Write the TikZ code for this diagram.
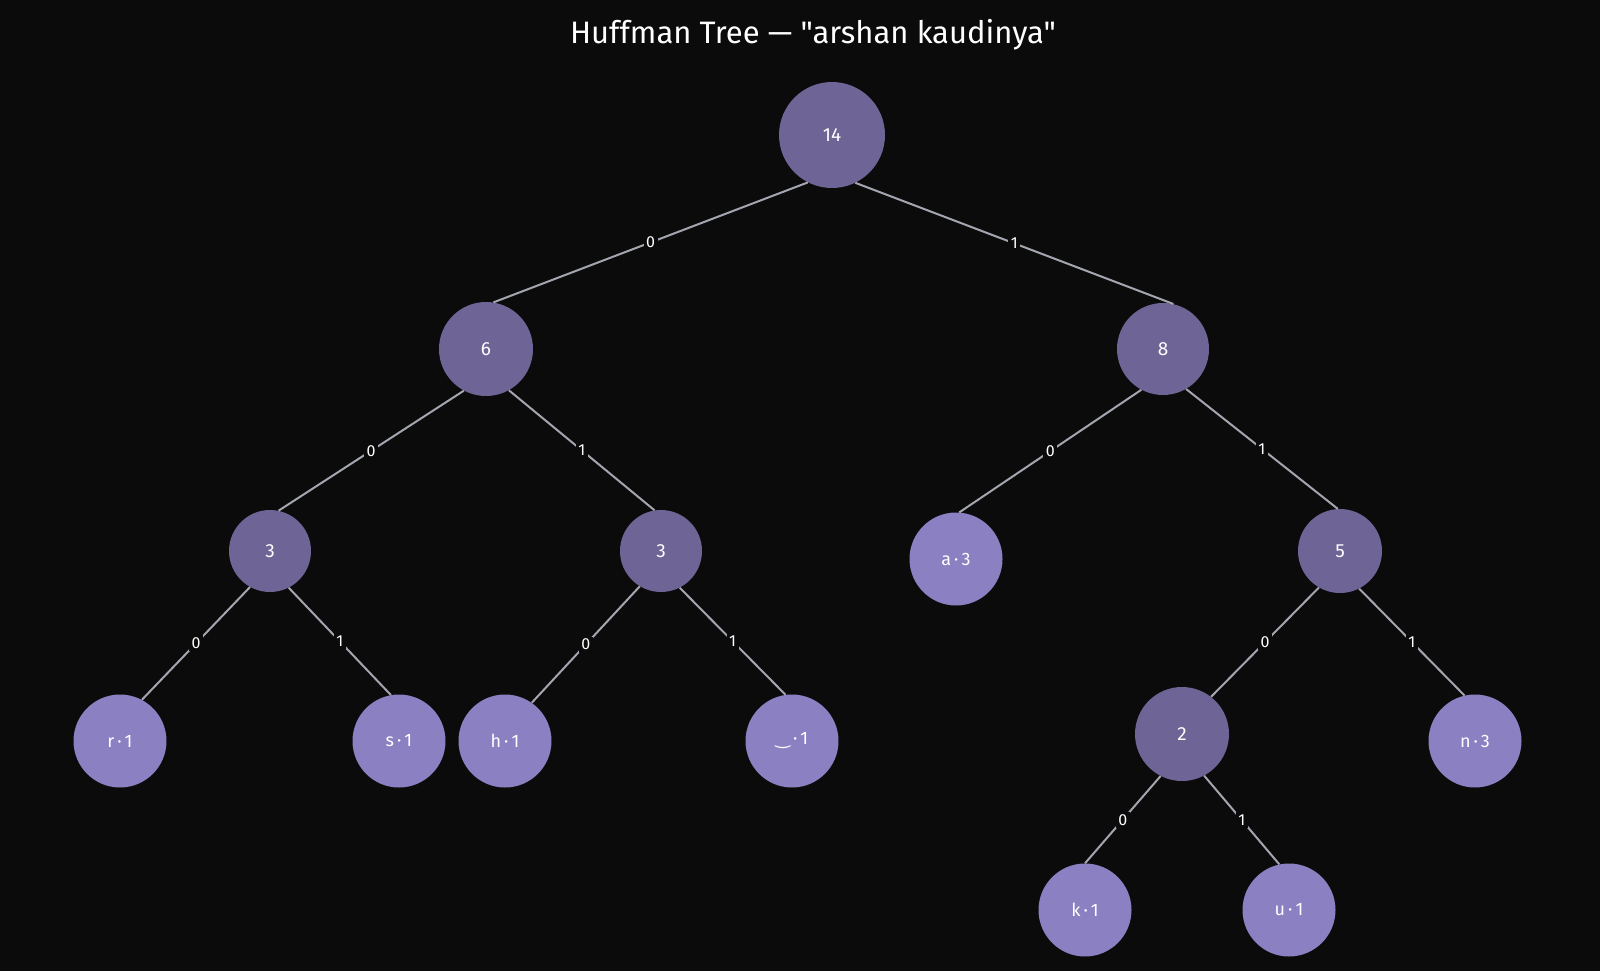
\documentclass[tikz,border=0pt]{standalone}
\usepackage{fontspec}
\setmainfont{Fira Sans}
\newfontfamily\titlefont{Fira Sans}
\newfontfamily\symfont{DejaVu Sans}
\definecolor{bg}{HTML}{0B0B0C}
\definecolor{inner}{HTML}{6E6496}
\definecolor{leafc}{HTML}{8B80C2}
\definecolor{edgec}{HTML}{A3A6AE}
\tikzset{
  x=1pt, y=-1pt,
  inode/.style={circle, fill=inner, text=white, inner sep=0pt, font=\fontsize{19}{21}\selectfont},
  lnode/.style={circle, fill=leafc, text=white, inner sep=0pt, minimum size=93pt, font=\fontsize{18}{20}\selectfont},
  edge/.style={draw=edgec, line width=2pt},
  elab/.style={fill=bg, text=white, inner sep=2.5pt, font=\fontsize{16}{18}\selectfont}
}
\begin{document}
\begin{tikzpicture}
\fill[bg] (0,0) rectangle (1600,971);
\useasboundingbox (0,0) rectangle (1600,971);
\node[text=white, font=\titlefont\fontsize{31}{34}\selectfont] (title) at (813,35) {Huffman Tree — "arshan kaudinya"};
% internal nodes
\node[inode, minimum size=106pt] (n14) at (832,135) {14};
\node[inode, minimum size=94pt] (n6) at (486,349) {6};
\node[inode, minimum size=92pt] (n8) at (1163,349) {8};
\node[inode, minimum size=82pt] (n3a) at (270,551) {3};
\node[inode, minimum size=82pt] (n3b) at (661,551) {3};
\node[inode, minimum size=84pt] (n5) at (1340,551) {5};
\node[inode, minimum size=94pt] (n2) at (1182,734) {2};
% leaves
\node[lnode] (a) at (956,559) {a\,·\,3};
\node[lnode] (r) at (120,741) {r\,·\,1};
\node[lnode] (s) at (399,741) {s\,·\,1};
\node[lnode] (h) at (505,741) {h\,·\,1};
\node[lnode] (sp) at (792,741) {{\symfont ‿}\,·\,1};
\node[lnode] (nn) at (1475,741) {n\,·\,3};
\node[lnode] (k) at (1085,910) {k\,·\,1};
\node[lnode] (u) at (1289,910) {u\,·\,1};
% edges
\draw[edge] (n14.243) -- node[elab]{0} (n6.81);
\draw[edge] (n14.296) -- node[elab]{1} (n8.77);
\draw[edge] (n6.242) -- node[elab]{0} (n3a.78);
\draw[edge] (n6.299) -- node[elab]{1} (n3b.99);
\draw[edge] (n8.242) -- node[elab]{0} (a.86);
\draw[edge] (n8.300) -- node[elab]{1} (n5.93);
\draw[edge] (n3a.241) -- node[elab]{0} (r.62);
\draw[edge] (n3a.297) -- node[elab]{1} (s.100);
\draw[edge] (n3b.239) -- node[elab]{0} (h.55);
\draw[edge] (n3b.297) -- node[elab]{1} (sp.98);
\draw[edge] (n5.240) -- node[elab]{0} (n2.52);
\draw[edge] (n5.297) -- node[elab]{1} (nn.103);
\draw[edge] (n2.243) -- node[elab]{0} (k.90);
\draw[edge] (n2.298) -- node[elab]{1} (u.102);
\end{tikzpicture}
\end{document}
